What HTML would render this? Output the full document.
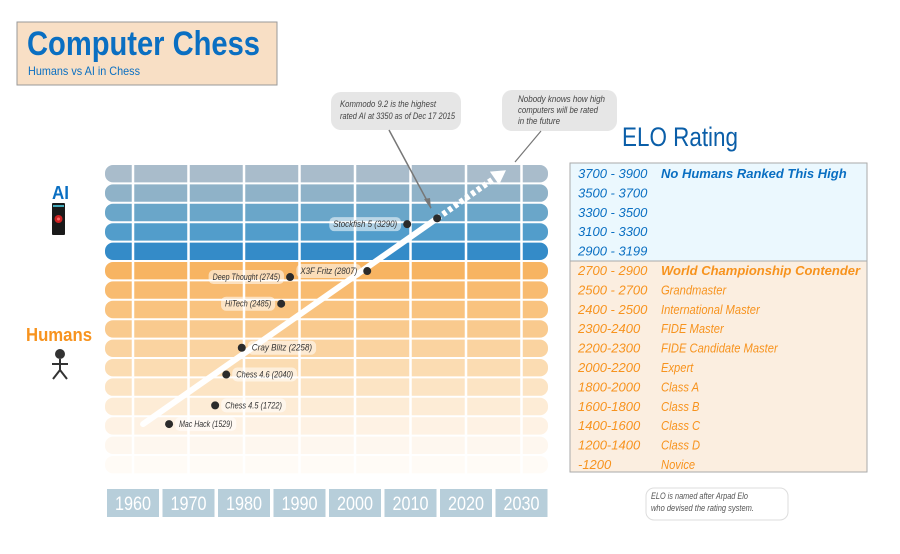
<!DOCTYPE html>
<html><head><meta charset="utf-8"><style>
html,body{margin:0;padding:0;background:#fff;width:900px;height:554px;overflow:hidden}
svg{display:block}
text{font-family:"Liberation Sans",sans-serif}
</style></head><body>
<svg id="chart" width="900" height="554" viewBox="0 0 900 554">
<g>
<rect x="17" y="22" width="260" height="63" fill="#f8dfc5" stroke="#999" stroke-width="1"/>
<text x="27" y="55" font-size="34" font-weight="bold" fill="#0a6fc2" textLength="233" lengthAdjust="spacingAndGlyphs">Computer Chess</text>
<text x="28" y="75" font-size="12" fill="#0a6fc2" textLength="112" lengthAdjust="spacingAndGlyphs">Humans vs AI in Chess</text>
</g>
<text x="622" y="146" font-size="27" fill="#0a5ea8" textLength="116" lengthAdjust="spacingAndGlyphs">ELO Rating</text>
<g>
<text x="52" y="199" font-size="18" font-weight="bold" fill="#0a6fc2" textLength="17" lengthAdjust="spacingAndGlyphs">AI</text>
<rect x="52" y="203" width="13" height="32" fill="#1a1a1a" rx="1"/>
<rect x="53" y="205" width="11" height="2" fill="#4ab"/>
<circle cx="58.5" cy="219" r="4" fill="#c22"/><circle cx="58.5" cy="219" r="1.5" fill="#f66"/>
</g>
<g>
<text x="26" y="341" font-size="18" font-weight="bold" fill="#f7931e" textLength="66" lengthAdjust="spacingAndGlyphs">Humans</text>
<circle cx="60" cy="354" r="5" fill="#333"/>
<path d="M60 359 V370 M52 364 H68 M60 370 L53 379 M60 370 L67 379" stroke="#333" stroke-width="2" fill="none"/>
</g>
<g id="rows"></g>
<g id="grid"></g>
<g id="years"></g>
<g id="marks"></g>
<g>
<rect x="331" y="92" width="130" height="38" rx="10" fill="#e6e6e6"/>
<text x="340" y="107" font-size="9" font-style="italic" fill="#444" textLength="96" lengthAdjust="spacingAndGlyphs">Kommodo 9.2 is the highest</text>
<text x="340" y="119" font-size="9" font-style="italic" fill="#444" textLength="115" lengthAdjust="spacingAndGlyphs">rated AI at 3350 as of Dec 17 2015</text>
<line x1="389" y1="130" x2="431" y2="208" stroke="#777" stroke-width="1.5"/>
<path d="M431 209 L424 199 L430 198 Z" fill="#777"/>
</g>
<g>
<rect x="502" y="90" width="115" height="41" rx="10" fill="#e6e6e6"/>
<text x="518" y="102" font-size="9" font-style="italic" fill="#444" textLength="87" lengthAdjust="spacingAndGlyphs">Nobody knows how high</text>
<text x="518" y="113" font-size="9" font-style="italic" fill="#444" textLength="80" lengthAdjust="spacingAndGlyphs">computers will be rated</text>
<text x="518" y="124" font-size="9" font-style="italic" fill="#444" textLength="42" lengthAdjust="spacingAndGlyphs">in the future</text>
<line x1="541" y1="131" x2="515" y2="162" stroke="#777" stroke-width="1.2"/>
</g>
<g id="legend">
<rect x="570" y="163" width="297" height="98" fill="#ebf8fe" stroke="#aaa"/>
<rect x="570" y="261" width="297" height="211" fill="#fbeee0" stroke="#aaa"/>
</g>
<text x="651" y="499" font-size="9" font-style="italic" fill="#555" textLength="97" lengthAdjust="spacingAndGlyphs">ELO is named after Arpad Elo</text>
<text x="651" y="511" font-size="9" font-style="italic" fill="#555" textLength="103" lengthAdjust="spacingAndGlyphs">who devised the rating system.</text>
<rect x="646" y="488" width="142" height="32" rx="8" fill="none" stroke="#ddd"/>
</svg>
<script>
const years=[1960,1970,1980,1990,2000,2010,2020,2030];
const bounds=[1000,1200,1400,1600,1800,2000,2200,2300,2400,2500,2700,2900,3100,3300,3500,3700,3900];
const engineNames=["Mac Hack","Chess 4.5","Chess 4.6","Cray Blitz","HiTech","Deep Thought","X3F Fritz","Stockfish 5","Kommodo 9.2"];
const engineYears=[1966.5,1974.8,1976.8,1979.6,1986.7,1988.3,2002.2,2009.4,2014.8];
const engineElo=[1529,1722,2040,2258,2485,2745,2807,3290,3350];
const labelSide=["r","r","r","r","l","l","l","l","n"];
const legendRanges=["3700 - 3900","3500 - 3700","3300 - 3500","3100 - 3300","2900 - 3199","2700 - 2900","2500 - 2700","2400 - 2500","2300-2400","2200-2300","2000-2200","1800-2000","1600-1800","1400-1600","1200-1400","-1200"];
const legendTitles=["No Humans Ranked This High","","","","","World Championship Contender","Grandmaster","International Master","FIDE Master","FIDE Candidate Master","Expert","Class A","Class B","Class C","Class D","Novice"];
const rowColors=["#a9bccb","#8fb2c8","#6aa6c9","#529dcb","#348bc8","#f7b462","#f8bb70","#f9c37f","#f9ca8e","#fad3a0","#fbdcb2","#fce4c4","#fdecd6","#fef2e4","#fef7ef","#fffbf6"];
const NS="http://www.w3.org/2000/svg";
const X0=105,X1=548,TOP=165,PITCH=19.4,BOTTOM=TOP+16*PITCH;
function xs(y){return 133+(y-1960)*5.55;}
function ys(e){let i=0;while(i<bounds.length-2&&e>bounds[i+1])i++;const f=(e-bounds[i])/(bounds[i+1]-bounds[i]);return BOTTOM-(i+f)*PITCH;}
function mk(t,a,p){const e=document.createElementNS(NS,t);for(const k in a)e.setAttribute(k,a[k]);p.appendChild(e);return e;}
const rows=document.getElementById('rows');
rowColors.forEach((c,i)=>{const r=mk('rect',{x:X0,y:TOP+i*PITCH,width:X1-X0,height:PITCH-2,rx:8,fill:c},rows);

});
const grid=document.getElementById('grid');
years.forEach(y=>{const l=mk('line',{x1:xs(y),x2:xs(y),y1:TOP-2,y2:BOTTOM,stroke:'#fff','stroke-width':2.5},grid);

});
const yg=document.getElementById('years');
years.forEach(y=>{const cx=xs(y);const r=mk('rect',{x:cx-26,y:489,width:52,height:28,fill:'#b7ceda'},yg);


const t=mk('text',{x:cx,y:510,'font-size':19,fill:'#fff','text-anchor':'middle',textLength:36,lengthAdjust:'spacingAndGlyphs'},yg);t.textContent=y;

});
const m=document.getElementById('marks');
const n=engineYears.length-1;
const sx=xs(engineYears[0])-26,sy=ys(engineElo[0]);
const ex=xs(engineYears[n]),ey=ys(engineElo[n]);
const tl=mk('line',{x1:sx,y1:sy,x2:ex,y2:ey,stroke:'#fff','stroke-width':6,'stroke-linecap':'round'},m);


const dx=(ex-sx),dy=(ey-sy),len=Math.hypot(dx,dy),ux=dx/len,uy=dy/len;
const fx=ex+ux*70,fy=ey+uy*70;
const dl=mk('line',{x1:ex,y1:ey,x2:fx,y2:fy,stroke:'#fff','stroke-width':6,'stroke-dasharray':'4 3'},m);


const hx=fx+ux*14,hy=fy+uy*14,px=-uy,py=ux;
const ah=mk('path',{d:`M${hx} ${hy} L${fx+px*8} ${fy+py*8} L${fx-px*8} ${fy-py*8} Z`,fill:'#fff'},m);


engineYears.forEach((yr,i)=>{const x=xs(yr),y=ys(engineElo[i]);
const label=engineNames[i]+' ('+engineElo[i]+')';const tw=label.length*3.55;const w=tw+8;
if(labelSide[i]!=='n'){const lx=labelSide[i]==='r'?x+6:x-6-w;
const bg=mk('rect',{x:lx,y:y-7,width:w,height:14,rx:5,fill:'#fff','fill-opacity':0.55},m);


const t=mk('text',{x:lx+4,y:y+3,'font-size':9,'font-style':'italic',fill:'#333',textLength:tw,lengthAdjust:'spacingAndGlyphs'},m);t.textContent=label;

}
const c=mk('circle',{cx:x,cy:y,r:4,fill:'#2b2b2b'},m);

});
const lg=document.getElementById('legend');
legendRanges.forEach((r,i)=>{const y=TOP+i*PITCH+13;const col=i<5?'#0a6fc2':'#f7931e';
const t=mk('text',{x:578,y:y,'font-size':13,'font-style':'italic',fill:col},lg);t.textContent=r;


if(legendTitles[i]){const bold=(i===0||i===5);
const t2=mk('text',{x:661,y:y,'font-size':13,'font-style':'italic',fill:col,'font-weight':bold?'bold':'normal'},lg);t2.textContent=legendTitles[i];
if(!bold){t2.setAttribute('transform','translate(661 0) scale(0.86 1) translate(-661 0)');}

}});
</script>
</body></html>
